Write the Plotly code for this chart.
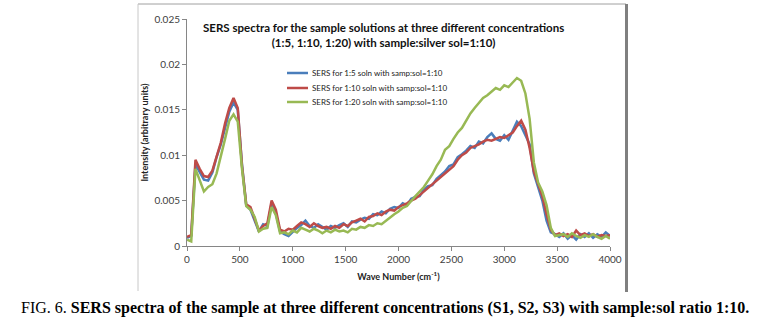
import plotly.graph_objects as go

wavenumber = list(range(0, 4001, 40))

sers_1_5 = [
    0.0009, 0.0011, 0.0090, 0.0082, 0.0073, 0.0072, 0.0081, 0.0098, 0.0112, 0.0130,
    0.0148, 0.0158, 0.0150, 0.0090, 0.0045, 0.0040, 0.0028, 0.0016, 0.0024, 0.0022,
    0.0047, 0.0036, 0.0016, 0.0013, 0.0011, 0.0016, 0.0020, 0.0023, 0.0028, 0.0022,
    0.0020, 0.0024, 0.0021, 0.0018, 0.0022, 0.0020, 0.0023, 0.0025, 0.0021, 0.0027,
    0.0026, 0.0029, 0.0031, 0.0030, 0.0035, 0.0034, 0.0038, 0.0036, 0.0041, 0.0043,
    0.0042, 0.0047, 0.0045, 0.0052, 0.0054, 0.0055, 0.0062, 0.0066, 0.0067, 0.0074,
    0.0078, 0.0082, 0.0088, 0.0090, 0.0098, 0.0101, 0.0105, 0.0110, 0.0108, 0.0115,
    0.0113, 0.0120, 0.0124, 0.0118, 0.0116, 0.0122, 0.0117, 0.0128, 0.0137, 0.0132,
    0.0122, 0.0112, 0.0080, 0.0066, 0.0050, 0.0028, 0.0015, 0.0013, 0.0010, 0.0014,
    0.0008, 0.0012, 0.0007, 0.0013, 0.0010, 0.0014, 0.0009, 0.0013, 0.0010, 0.0015,
    0.0011,
]

sers_1_10 = [
    0.0010, 0.0012, 0.0095, 0.0085, 0.0077, 0.0076, 0.0083, 0.0098, 0.0114, 0.0135,
    0.0152, 0.0163, 0.0152, 0.0088, 0.0046, 0.0043, 0.0030, 0.0017, 0.0022, 0.0025,
    0.0050, 0.0040, 0.0018, 0.0016, 0.0019, 0.0018, 0.0022, 0.0026, 0.0024, 0.0021,
    0.0025, 0.0022, 0.0020, 0.0021, 0.0019, 0.0022, 0.0020, 0.0024, 0.0022, 0.0026,
    0.0028, 0.0030, 0.0027, 0.0032, 0.0033, 0.0036, 0.0034, 0.0038, 0.0040, 0.0039,
    0.0043, 0.0045, 0.0047, 0.0050, 0.0052, 0.0056, 0.0060, 0.0064, 0.0068, 0.0072,
    0.0076, 0.0080, 0.0085, 0.0088, 0.0095, 0.0100, 0.0103, 0.0108, 0.0110, 0.0112,
    0.0115, 0.0117, 0.0116, 0.0118, 0.0120, 0.0119, 0.0122, 0.0125, 0.0132, 0.0138,
    0.0128, 0.0108, 0.0082, 0.0068, 0.0055, 0.0035, 0.0018, 0.0012, 0.0014, 0.0011,
    0.0013, 0.0010, 0.0017, 0.0012, 0.0014, 0.0011, 0.0013, 0.0010, 0.0012, 0.0011,
    0.0012,
]

sers_1_20 = [
    0.0007, 0.0005, 0.0085, 0.0072, 0.0060, 0.0065, 0.0068, 0.0080, 0.0098, 0.0118,
    0.0138, 0.0145, 0.0137, 0.0085, 0.0044, 0.0040, 0.0032, 0.0016, 0.0019, 0.0020,
    0.0043, 0.0034, 0.0014, 0.0015, 0.0013, 0.0017, 0.0015, 0.0020, 0.0018, 0.0016,
    0.0019, 0.0017, 0.0014, 0.0017, 0.0015, 0.0018, 0.0016, 0.0017, 0.0015, 0.0019,
    0.0018, 0.0021, 0.0020, 0.0023, 0.0022, 0.0025, 0.0024, 0.0028, 0.0031, 0.0035,
    0.0038, 0.0042, 0.0044, 0.0050, 0.0055, 0.0060, 0.0065, 0.0072, 0.0079, 0.0088,
    0.0095, 0.0106, 0.0110, 0.0118, 0.0125, 0.0130, 0.0138, 0.0146, 0.0152, 0.0158,
    0.0163, 0.0166, 0.0170, 0.0174, 0.0172, 0.0177, 0.0175, 0.0180, 0.0185, 0.0182,
    0.0168, 0.0140, 0.0092, 0.0070, 0.0060, 0.0045, 0.0020, 0.0011, 0.0012, 0.0013,
    0.0010, 0.0014, 0.0011, 0.0009, 0.0012, 0.0010, 0.0013, 0.0010, 0.0008, 0.0011,
    0.0008,
]

series_names = [
    "SERS for 1:5 soln with samp:sol=1:10",
    "SERS for 1:10 soln with samp:sol=1:10",
    "SERS for 1:20 soln with samp:sol=1:10",
]
series_colors = ["#4A7EBB", "#BE4B48", "#98B954"]

x_tickvals = [0, 500, 1000, 1500, 2000, 2500, 3000, 3500, 4000]
y_tickvals = [0, 0.005, 0.01, 0.015, 0.02, 0.025]
y_ticktext = ["0", "0.005", "0.01", "0.015", "0.02", "0.025"]

title_text = ("<b>SERS spectra for the sample solutions at three different concentrations<br>"
              "(1:5, 1:10, 1:20) with sample:silver sol=1:10)</b>")
caption_text = ("FIG. 6. <b>SERS spectra of the sample at three different concentrations "
                "(S1, S2, S3) with sample:sol ratio 1:10.</b>")

W, H = 764, 326
L, R, T, B = 187, 610, 19, 246

fig = go.Figure()
for name, vals, col in zip(series_names, [sers_1_5, sers_1_10, sers_1_20], series_colors):
    fig.add_trace(go.Scatter(x=wavenumber, y=vals, mode="lines", name=name,
                             line=dict(color=col, width=2.5), showlegend=False))

def px_x(p):
    return (p - L) / (R - L)

def px_y(p):
    return (B - p) / (B - T)

fig.update_layout(
    width=W, height=H,
    margin=dict(l=L, r=W - R, t=T, b=H - B, pad=0),
    paper_bgcolor="white", plot_bgcolor="white",
    font=dict(family="Lato, Open Sans, sans-serif", size=10, color="#333333"),
    showlegend=False,
    xaxis=dict(range=[0, 4000], tickvals=x_tickvals, showline=True, linecolor="#868686",
               linewidth=1, ticks="outside", ticklen=4, tickcolor="#868686",
               showgrid=False, zeroline=False, tickfont=dict(size=10, color="#404040"),
               title=dict(text="<b>Wave Number (cm<sup>-1</sup>)</b>", font=dict(size=9, color="#222222"),
                          standoff=9)),
    yaxis=dict(range=[0, 0.025], tickvals=y_tickvals, ticktext=y_ticktext, showline=True,
               linecolor="#868686", linewidth=1, ticks="outside", ticklen=4, tickcolor="#868686",
               showgrid=False, zeroline=False, tickfont=dict(size=10, color="#404040"),
               title=dict(text="<b>Intensity (arbitrary units)</b>", font=dict(size=9, color="#222222"),
                          standoff=4)),
)

# legend drawn as sample lines + labels
legend_rows = [73, 88, 102]
for name, col, row in zip(series_names, series_colors, legend_rows):
    fig.add_shape(type="line", xref="paper", yref="paper", x0=px_x(287), x1=px_x(308),
                  y0=px_y(row), y1=px_y(row), line=dict(color=col, width=2.5))
    fig.add_annotation(text=name, x=px_x(310), y=px_y(row), xref="paper", yref="paper",
                       showarrow=False, xanchor="left", yanchor="middle",
                       font=dict(size=8, color="#222222"))

fig.add_annotation(text=title_text, x=px_x(383), y=px_y(35), xref="paper", yref="paper",
                   showarrow=False, xanchor="center", yanchor="middle",
                   font=dict(size=11.5, color="#111111"))
fig.add_annotation(text=caption_text, x=px_x(385), y=px_y(308), xref="paper", yref="paper",
                   showarrow=False, xanchor="center", yanchor="middle",
                   font=dict(family="Liberation Serif, Times New Roman, serif", size=16, color="black"))

# chart frame
fig.add_shape(type="line", xref="paper", yref="paper", x0=px_x(138), x1=px_x(626),
              y0=px_y(4), y1=px_y(4), line=dict(color="#A0A0A0", width=1))
fig.add_shape(type="line", xref="paper", yref="paper", x0=px_x(138), x1=px_x(138),
              y0=px_y(4), y1=px_y(291), line=dict(color="#C8C8C8", width=1))
fig.add_shape(type="line", xref="paper", yref="paper", x0=px_x(626.5), x1=px_x(626.5),
              y0=px_y(4), y1=px_y(292), line=dict(color="#808080", width=3))

fig.write_html("out.html")
